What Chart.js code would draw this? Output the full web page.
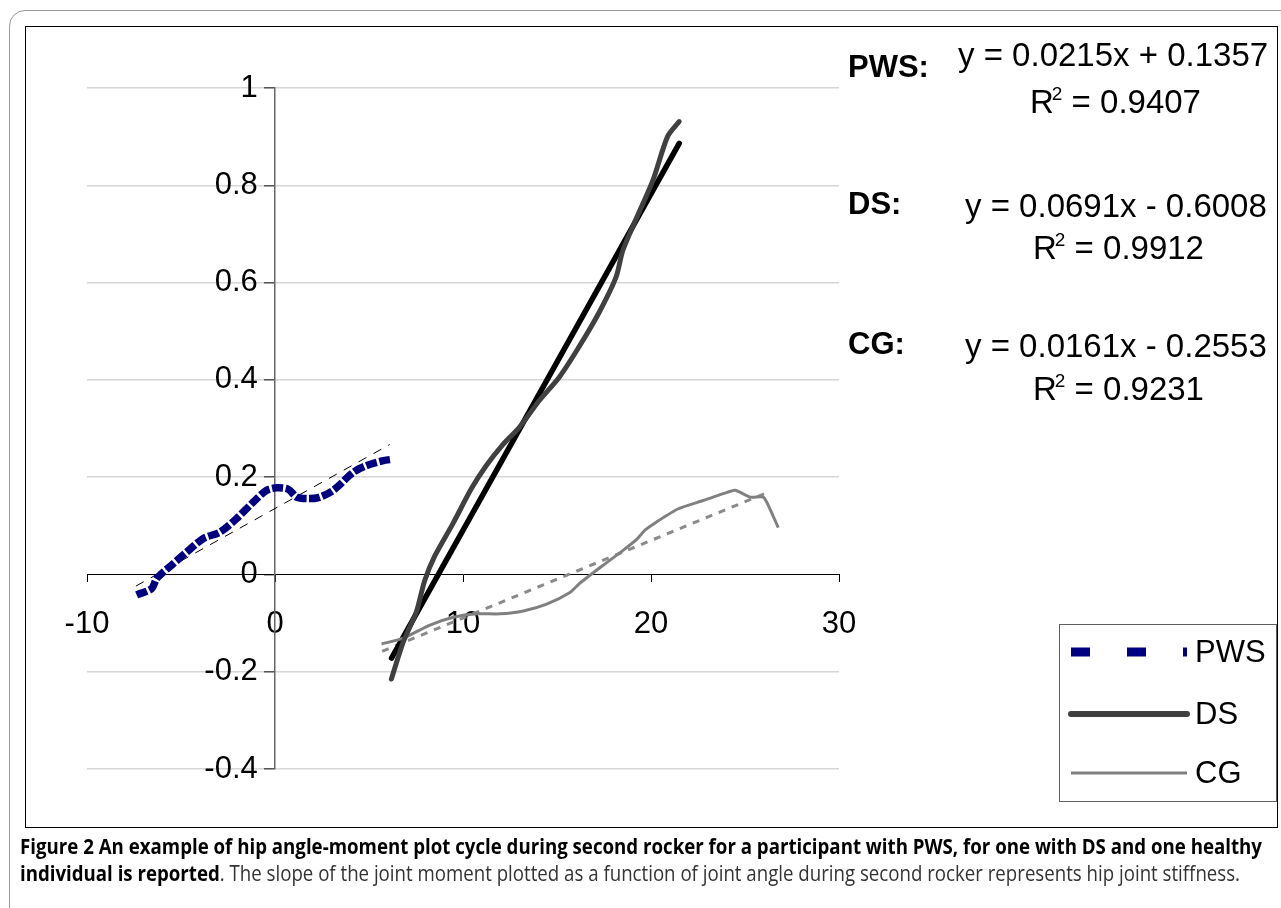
<!DOCTYPE html>
<html>
<head>
<meta charset="utf-8">
<script src="https://cdn.jsdelivr.net/npm/chart.js@4.4.1/dist/chart.umd.min.js"></script>
<style>
  body { margin: 0; background: #fff; width: 1281px; height: 908px; overflow: hidden; position: relative; font-family: "Liberation Sans", Arial, sans-serif; }
  #outer { position: absolute; left: 9px; top: 10px; width: 1320px; height: 960px; border: 1.5px solid #9a9a9a; border-radius: 16px; }
  #inner { position: absolute; left: 25px; top: 26px; width: 1253px; height: 802px; border: 1px solid #000; box-sizing: border-box; }
  #chart { position: absolute; left: 0; top: 0; }
  .eq { position: absolute; font-size: 33px; line-height: 33px; white-space: nowrap; color: #000; }
  .eq sup { font-size: 19px; vertical-align: 13px; line-height: 0; margin-left: -2px; }
  .lab { position: absolute; left: 848px; font-size: 31px; line-height: 31px; font-weight: bold; color: #000; }
  .caption { position: absolute; left: 20px; font-family: "Liberation Sans Narrow", "Open Sans", sans-serif; font-size: 21px; line-height: 24px; white-space: nowrap; transform-origin: left center; color: #333; }
  .caption b { color: #000; }
</style>
</head>
<body>
<div id="outer"></div>
<div id="inner"></div>
<canvas id="chart" width="1281" height="840"></canvas>

<div class="lab" style="top:51px">PWS:</div>
<div class="eq" style="left:958px; top:38px">y = 0.0215x + 0.1357</div>
<div class="eq" style="left:1030px; top:85px">R<sup>2</sup> = 0.9407</div>

<div class="lab" style="top:188px">DS:</div>
<div class="eq" style="left:965px; top:189px">y = 0.0691x - 0.6008</div>
<div class="eq" style="left:1033px; top:231px">R<sup>2</sup> = 0.9912</div>

<div class="lab" style="top:328px">CG:</div>
<div class="eq" style="left:965px; top:329px">y = 0.0161x - 0.2553</div>
<div class="eq" style="left:1033px; top:372px">R<sup>2</sup> = 0.9231</div>

<div class="caption" id="cap1" style="top:834px" data-w="1242"><b>Figure 2 An example of hip angle-moment plot cycle during second rocker for a participant with PWS, for one with DS and one healthy</b></div>
<div class="caption" id="cap2" style="top:861px" data-w="1220"><b>individual is reported</b>. The slope of the joint moment plotted as a function of joint angle during second rocker represents hip joint stiffness.</div>

<script>
// axis ticks
var xTickValues = [-10, 0, 10, 20, 30];
var xTickLabels = ['-10', '0', '10', '20', '30'];
var yTickValues = [-0.4, -0.2, 0, 0.2, 0.4, 0.6, 0.8, 1];
var yTickLabels = ['-0.4', '-0.2', '0', '0.2', '0.4', '0.6', '0.8', '1'];

// PWS (hip angle, hip moment)
var pwsX = [-7.36, -6.56, -6.29, -5.59, -4.70, -3.81, -2.93, -2.04, -1.15, -0.44, 0.09, 0.71, 1.15, 1.69, 2.31, 3.10, 4.17, 4.88, 5.76, 6.12];
var pwsY = [-0.042, -0.029, -0.008, 0.016, 0.046, 0.074, 0.087, 0.115, 0.149, 0.173, 0.178, 0.175, 0.159, 0.156, 0.158, 0.173, 0.210, 0.224, 0.234, 0.236];

// DS
var dsX = [6.19, 6.81, 7.52, 7.96, 8.50, 9.47, 10.44, 11.24, 12.12, 13.01, 14.07, 15.13, 16.19, 17.26, 18.14, 18.50, 19.20, 20.09, 20.88, 21.50];
var dsY = [-0.215, -0.140, -0.077, -0.013, 0.038, 0.105, 0.176, 0.224, 0.267, 0.303, 0.358, 0.406, 0.469, 0.540, 0.611, 0.666, 0.730, 0.809, 0.900, 0.931];

// CG (healthy)
var cgX = [5.67, 6.83, 8.24, 9.49, 10.73, 11.97, 13.21, 14.45, 15.69, 16.22, 17.46, 18.53, 19.24, 19.68, 20.30, 21.45, 22.78, 23.85, 24.47, 25.27, 25.97, 26.24, 26.77];
var cgY = [-0.143, -0.131, -0.104, -0.088, -0.081, -0.081, -0.075, -0.061, -0.037, -0.018, 0.019, 0.050, 0.072, 0.091, 0.108, 0.135, 0.152, 0.166, 0.173, 0.159, 0.159, 0.142, 0.096];

// linear trend lines, end points
var pwsTrendX = [-7.4, 6.1];
var pwsTrendY = [-0.024, 0.267];
var dsTrendX = [6.2, 21.5];
var dsTrendY = [-0.172, 0.886];
var cgTrendX = [5.7, 26.1];
var cgTrendY = [-0.158, 0.167];

function toPoints(xs, ys) {
    return xs.map(function (x, i) { return { x: x, y: ys[i] }; });
}

var tickFont = { family: 'Liberation Sans, Arial, sans-serif', size: 31 };

// legend drawn in the right margin, Excel style
var legendLayout = { left: 1059.5, top: 624.5, width: 217, height: 177, x1: 1071, x2: 1187, textX: 1195, rows: [652, 714, 773] };
var legendStyles = [
    { width: 9, dash: [19, 37], cap: 'butt' },
    { width: 6, dash: [], cap: 'round' },
    { width: 3, dash: [], cap: 'butt' }
];

var boxLegend = {
    id: 'boxLegend',
    afterDraw: function (chart) {
        var ctx = chart.ctx;
        var L = legendLayout;
        ctx.save();
        ctx.strokeStyle = '#606060';
        ctx.lineWidth = 1;
        ctx.strokeRect(L.left, L.top, L.width, L.height);
        ctx.font = '31px "Liberation Sans", Arial, sans-serif';
        ctx.fillStyle = '#000';
        ctx.textBaseline = 'middle';
        for (var i = 0; i < 3; i++) {
            var ds = chart.data.datasets[i];
            var st = legendStyles[i];
            ctx.beginPath();
            ctx.strokeStyle = ds.borderColor;
            ctx.lineWidth = st.width;
            ctx.lineCap = st.cap;
            ctx.setLineDash(st.dash);
            ctx.moveTo(L.x1, L.rows[i]);
            ctx.lineTo(L.x2, L.rows[i]);
            ctx.stroke();
            ctx.setLineDash([]);
            ctx.fillText(ds.label, L.textX, L.rows[i] + 1);
        }
        ctx.restore();
    }
};

new Chart(document.getElementById('chart'), {
    type: 'scatter',
    data: {
        datasets: [
            { label: 'PWS', data: toPoints(pwsX, pwsY), showLine: true, borderColor: '#000080', borderWidth: 7.5, borderDash: [11, 2.5], borderCapStyle: 'butt', pointRadius: 0, tension: 0.3 },
            { label: 'DS', data: toPoints(dsX, dsY), showLine: true, borderColor: '#404040', borderWidth: 5, borderCapStyle: 'round', pointRadius: 0, tension: 0.25 },
            { label: 'CG', data: toPoints(cgX, cgY), showLine: true, borderColor: '#808080', borderWidth: 3, pointRadius: 0, tension: 0.2 },
            { label: 'PWS trend', data: toPoints(pwsTrendX, pwsTrendY), showLine: true, borderColor: '#000', borderWidth: 1, borderDash: [9, 8], pointRadius: 0 },
            { label: 'DS trend', data: toPoints(dsTrendX, dsTrendY), showLine: true, borderColor: '#000', borderWidth: 5.5, borderCapStyle: 'round', pointRadius: 0 },
            { label: 'CG trend', data: toPoints(cgTrendX, cgTrendY), showLine: true, borderColor: '#8a8a8a', borderWidth: 3, borderDash: [7, 7], pointRadius: 0 }
        ]
    },
    options: {
        responsive: false,
        animation: false,
        layout: { padding: { left: 87, top: 88, right: 442, bottom: 71 } },
        plugins: { legend: { display: false }, tooltip: { enabled: false } },
        scales: {
            x: {
                type: 'linear',
                min: -10,
                max: 30,
                position: { y: 0 },
                afterBuildTicks: function (axis) {
                    axis.ticks = xTickValues.map(function (v) { return { value: v }; });
                },
                grid: { drawOnChartArea: false, drawTicks: true, tickLength: 7, tickColor: '#000', tickWidth: 1 },
                border: { display: true, color: '#000', width: 1 },
                ticks: {
                    font: tickFont, color: '#000', padding: 24, maxRotation: 0, autoSkip: false,
                    callback: function (v, i) { return xTickLabels[i]; }
                }
            },
            y: {
                type: 'linear',
                min: -0.4,
                max: 1,
                position: { x: 0 },
                afterBuildTicks: function (axis) {
                    axis.ticks = yTickValues.map(function (v) { return { value: v }; });
                },
                grid: {
                    color: function (c) { return c.tick && c.tick.value === 0 ? 'rgba(0,0,0,0)' : '#d6d6d6'; },
                    lineWidth: 1.5,
                    tickColor: '#555',
                    tickLength: 10
                },
                border: { display: true, color: '#666', width: 1.5 },
                ticks: {
                    font: tickFont, color: '#000', autoSkip: false,
                    // labels of an axis placed at x = 0 sit right on the line, so pad them with spaces
                    callback: function (v, i) { return yTickLabels[i] + '  '; }
                }
            }
        }
    },
    plugins: [boxLegend]
});

// stretch caption lines to the reference line widths
['cap1', 'cap2'].forEach(function (id) {
    var el = document.getElementById(id);
    var w = el.getBoundingClientRect().width;
    var target = parseFloat(el.getAttribute('data-w'));
    el.style.transform = 'scaleX(' + (target / w) + ')';
});
</script>
</body>
</html>
